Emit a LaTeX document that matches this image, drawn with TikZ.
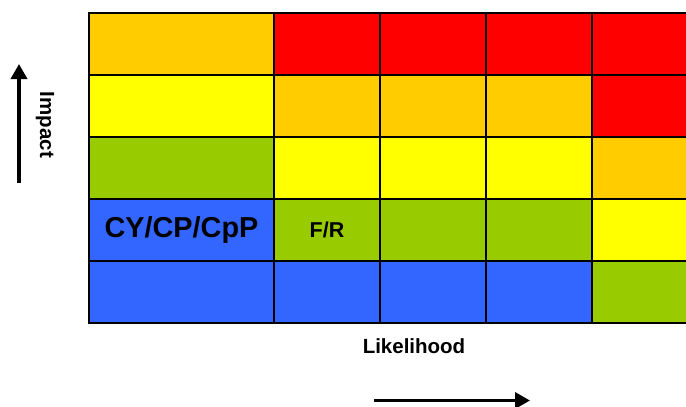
\documentclass[tikz,border=0pt]{standalone}
\usepackage{fontspec}
\setmainfont{Liberation Sans}
\usetikzlibrary{arrows.meta}
\definecolor{cOrange}{HTML}{FFCC00}
\definecolor{cRed}{HTML}{FF0000}
\definecolor{cYellow}{HTML}{FFFF00}
\definecolor{cGreen}{HTML}{99CC00}
\definecolor{cBlue}{HTML}{3366FF}
\begin{document}
\begin{tikzpicture}[x=1pt,y=-1pt,
  cell/.style={draw=black,line width=2pt,anchor=north west,inner sep=0pt,
    minimum height=62pt,font=\bfseries},
  wide/.style={cell,minimum width=185pt},
  narrow/.style={cell,minimum width=106pt},
  axislabel/.style={font=\bfseries\fontsize{20.5}{24}\selectfont},
  axisarrow/.style={line width=3.5pt,-{Triangle[length=15pt,width=16pt]}}]
\useasboundingbox (0,0) rectangle (686,407);
\begin{scope}
\clip (0,0) rectangle (686,407);
% row 1
\node[wide,fill=cOrange]   (r1c1) at (88,12) {};
\node[narrow,fill=cRed]    (r1c2) at (273,12) {};
\node[narrow,fill=cRed]    (r1c3) at (379,12) {};
\node[narrow,fill=cRed]    (r1c4) at (485,12) {};
\node[narrow,fill=cRed]    (r1c5) at (591,12) {};
% row 2
\node[wide,fill=cYellow]   (r2c1) at (88,74) {};
\node[narrow,fill=cOrange] (r2c2) at (273,74) {};
\node[narrow,fill=cOrange] (r2c3) at (379,74) {};
\node[narrow,fill=cOrange] (r2c4) at (485,74) {};
\node[narrow,fill=cRed]    (r2c5) at (591,74) {};
% row 3
\node[wide,fill=cGreen]    (r3c1) at (88,136) {};
\node[narrow,fill=cYellow] (r3c2) at (273,136) {};
\node[narrow,fill=cYellow] (r3c3) at (379,136) {};
\node[narrow,fill=cYellow] (r3c4) at (485,136) {};
\node[narrow,fill=cOrange] (r3c5) at (591,136) {};
% row 4
\node[wide,fill=cBlue,font=\bfseries\fontsize{28.8}{32}\selectfont] (r4c1) at (88,198) {CY/CP/CpP};
\node[narrow,fill=cGreen,font=\bfseries\fontsize{21.5}{24}\selectfont] (r4c2) at (273,198) {F/R};
\node[narrow,fill=cGreen]  (r4c3) at (379,198) {};
\node[narrow,fill=cGreen]  (r4c4) at (485,198) {};
\node[narrow,fill=cYellow] (r4c5) at (591,198) {};
% row 5
\node[wide,fill=cBlue]     (r5c1) at (88,260) {};
\node[narrow,fill=cBlue]   (r5c2) at (273,260) {};
\node[narrow,fill=cBlue]   (r5c3) at (379,260) {};
\node[narrow,fill=cBlue]   (r5c4) at (485,260) {};
\node[narrow,fill=cGreen]  (r5c5) at (591,260) {};
\end{scope}
% axes
\coordinate (impS) at (19,183);
\coordinate (impE) at (19,64);
\draw[axisarrow] (impS) -- (impE);
\node[axislabel,rotate=-90] (impact) at (45,125) {Impact};
\coordinate (likS) at (374,400.5);
\coordinate (likE) at (530,400.5);
\draw[axisarrow] (likS) -- (likE);
\node[axislabel] (likelihood) at (414,346) {Likelihood};
\end{tikzpicture}
\end{document}
